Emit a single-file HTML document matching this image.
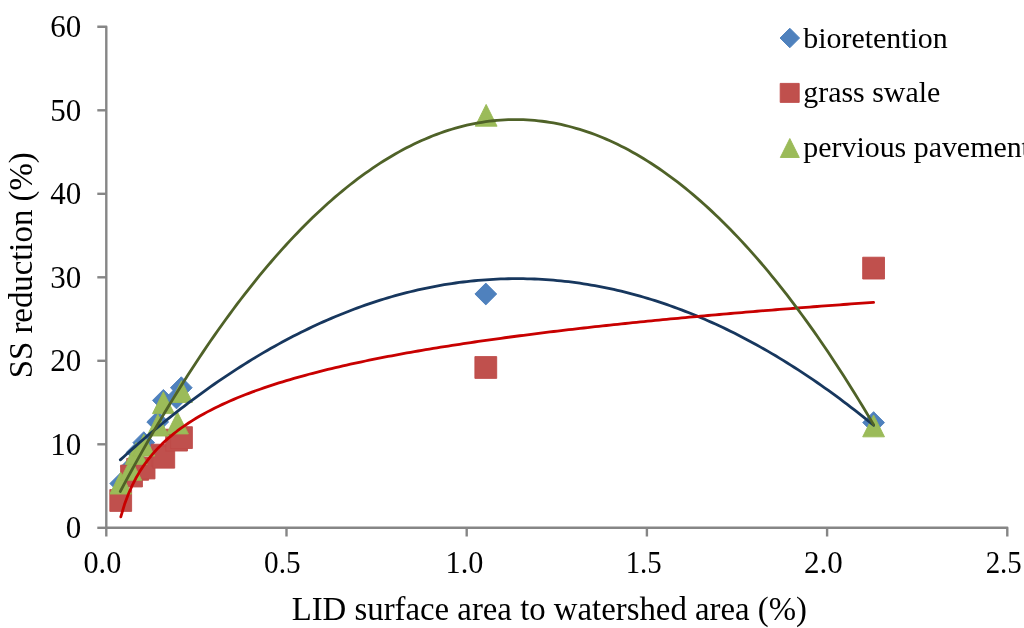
<!DOCTYPE html><html><head><meta charset="utf-8"><style>html,body{margin:0;padding:0;background:#fff;overflow:hidden}svg{display:block;will-change:transform}text{font-family:"Liberation Serif",serif;fill:#000}</style></head><body>
<svg width="1024" height="628" viewBox="0 0 1024 628">
<rect width="1024" height="628" fill="#fff"/>
<g stroke="#868686" stroke-width="2.4" fill="none" stroke-linecap="butt">
<path d="M97.3 26.80H106.3 V527.8 H1007.30 V536.50" stroke-linejoin="round"/>
<path d="M97.3 527.80H106.3"/>
<path d="M97.3 444.30H106.3"/>
<path d="M97.3 360.80H106.3"/>
<path d="M97.3 277.30H106.3"/>
<path d="M97.3 193.80H106.3"/>
<path d="M97.3 110.30H106.3"/>
<path d="M106.30 527.8V536.50"/>
<path d="M286.50 527.8V536.50"/>
<path d="M466.70 527.8V536.50"/>
<path d="M646.90 527.8V536.50"/>
<path d="M827.10 527.8V536.50"/>
</g>
<g font-size="31" text-anchor="end">
<text x="81.2" y="538.00">0</text>
<text x="81.2" y="454.50">10</text>
<text x="81.2" y="371.00">20</text>
<text x="81.2" y="287.50">30</text>
<text x="81.2" y="204.00">40</text>
<text x="81.2" y="120.50">50</text>
<text x="81.2" y="37.00">60</text>
</g>
<g font-size="31" text-anchor="middle">
<text x="102.40" y="572.9" textLength="37.8" lengthAdjust="spacingAndGlyphs">0.0</text>
<text x="282.30" y="572.9" textLength="36.5" lengthAdjust="spacingAndGlyphs">0.5</text>
<text x="464.50" y="572.9" textLength="37.8" lengthAdjust="spacingAndGlyphs">1.0</text>
<text x="643.70" y="572.9" textLength="36.0" lengthAdjust="spacingAndGlyphs">1.5</text>
<text x="823.40" y="572.9" textLength="38.75" lengthAdjust="spacingAndGlyphs">2.0</text>
<text x="1003.70" y="572.9" textLength="36.1" lengthAdjust="spacingAndGlyphs">2.5</text>
</g>
<text x="549.3" y="619.8" font-size="32.8" text-anchor="middle">LID surface area to watershed area (%)</text>
<text transform="translate(31.5,265.3) rotate(-90)" font-size="32.8" text-anchor="middle">SS reduction (%)</text>
<path d="M120.72 472.64L131.62 483.54L120.72 494.44L109.82 483.54Z" fill="#4F81BD" stroke="#4A7EBB" stroke-width="0.9" stroke-linejoin="round"/>
<path d="M131.53 455.94L142.43 466.84L131.53 477.74L120.63 466.84Z" fill="#4F81BD" stroke="#4A7EBB" stroke-width="0.9" stroke-linejoin="round"/>
<path d="M137.19 441.42L148.09 452.32L137.19 463.22L126.29 452.32Z" fill="#4F81BD" stroke="#4A7EBB" stroke-width="0.9" stroke-linejoin="round"/>
<path d="M143.78 431.73L154.68 442.63L143.78 453.53L132.88 442.63Z" fill="#4F81BD" stroke="#4A7EBB" stroke-width="0.9" stroke-linejoin="round"/>
<path d="M157.69 411.11L168.59 422.01L157.69 432.91L146.79 422.01Z" fill="#4F81BD" stroke="#4A7EBB" stroke-width="0.9" stroke-linejoin="round"/>
<path d="M163.39 389.48L174.29 400.38L163.39 411.28L152.49 400.38Z" fill="#4F81BD" stroke="#4A7EBB" stroke-width="0.9" stroke-linejoin="round"/>
<path d="M176.51 387.06L187.41 397.96L176.51 408.86L165.61 397.96Z" fill="#4F81BD" stroke="#4A7EBB" stroke-width="0.9" stroke-linejoin="round"/>
<path d="M181.30 376.79L192.20 387.69L181.30 398.59L170.40 387.69Z" fill="#4F81BD" stroke="#4A7EBB" stroke-width="0.9" stroke-linejoin="round"/>
<path d="M485.80 283.10L496.70 294.00L485.80 304.90L474.90 294.00Z" fill="#4F81BD" stroke="#4A7EBB" stroke-width="0.9" stroke-linejoin="round"/>
<path d="M873.59 411.69L884.49 422.59L873.59 433.49L862.69 422.59Z" fill="#4F81BD" stroke="#4A7EBB" stroke-width="0.9" stroke-linejoin="round"/>
<rect x="109.82" y="489.60" width="21.80" height="21.80" fill="#C0504D" stroke="#BE4B48" stroke-width="0.9" stroke-linejoin="round"/>
<rect x="120.63" y="465.13" width="21.80" height="21.80" fill="#C0504D" stroke="#BE4B48" stroke-width="0.9" stroke-linejoin="round"/>
<rect x="126.75" y="458.45" width="21.80" height="21.80" fill="#C0504D" stroke="#BE4B48" stroke-width="0.9" stroke-linejoin="round"/>
<rect x="133.17" y="457.11" width="21.80" height="21.80" fill="#C0504D" stroke="#BE4B48" stroke-width="0.9" stroke-linejoin="round"/>
<rect x="151.08" y="444.25" width="21.80" height="21.80" fill="#C0504D" stroke="#BE4B48" stroke-width="0.9" stroke-linejoin="round"/>
<rect x="152.88" y="446.34" width="21.80" height="21.80" fill="#C0504D" stroke="#BE4B48" stroke-width="0.9" stroke-linejoin="round"/>
<rect x="165.68" y="429.22" width="21.80" height="21.80" fill="#C0504D" stroke="#BE4B48" stroke-width="0.9" stroke-linejoin="round"/>
<rect x="170.58" y="426.72" width="21.80" height="21.80" fill="#C0504D" stroke="#BE4B48" stroke-width="0.9" stroke-linejoin="round"/>
<rect x="474.90" y="356.58" width="21.80" height="21.80" fill="#C0504D" stroke="#BE4B48" stroke-width="0.9" stroke-linejoin="round"/>
<rect x="862.69" y="257.21" width="21.80" height="21.80" fill="#C0504D" stroke="#BE4B48" stroke-width="0.9" stroke-linejoin="round"/>
<path d="M120.72 472.23L131.62 494.03L109.82 494.03Z" fill="#9BBB59" stroke="#98B954" stroke-width="0.9" stroke-linejoin="round"/>
<path d="M130.81 458.45L141.71 480.25L119.91 480.25Z" fill="#9BBB59" stroke="#98B954" stroke-width="0.9" stroke-linejoin="round"/>
<path d="M136.21 442.58L147.11 464.38L125.31 464.38Z" fill="#9BBB59" stroke="#98B954" stroke-width="0.9" stroke-linejoin="round"/>
<path d="M143.78 434.23L154.68 456.03L132.88 456.03Z" fill="#9BBB59" stroke="#98B954" stroke-width="0.9" stroke-linejoin="round"/>
<path d="M157.84 414.19L168.74 435.99L146.94 435.99Z" fill="#9BBB59" stroke="#98B954" stroke-width="0.9" stroke-linejoin="round"/>
<path d="M163.39 391.82L174.29 413.62L152.49 413.62Z" fill="#9BBB59" stroke="#98B954" stroke-width="0.9" stroke-linejoin="round"/>
<path d="M177.48 412.11L188.38 433.91L166.58 433.91Z" fill="#9BBB59" stroke="#98B954" stroke-width="0.9" stroke-linejoin="round"/>
<path d="M181.52 380.63L192.42 402.43L170.62 402.43Z" fill="#9BBB59" stroke="#98B954" stroke-width="0.9" stroke-linejoin="round"/>
<path d="M486.16 104.41L497.06 126.21L475.26 126.21Z" fill="#9BBB59" stroke="#98B954" stroke-width="0.9" stroke-linejoin="round"/>
<path d="M873.59 415.03L884.49 436.83L862.69 436.83Z" fill="#9BBB59" stroke="#98B954" stroke-width="0.9" stroke-linejoin="round"/>
<path d="M120.32,459.85 L124.09,456.43 L127.85,453.03 L131.62,449.67 L135.39,446.35 L139.15,443.05 L142.92,439.79 L146.68,436.56 L150.45,433.36 L154.22,430.20 L157.98,427.07 L161.75,423.97 L165.52,420.90 L169.28,417.87 L173.05,414.87 L176.81,411.90 L180.58,408.97 L184.35,406.06 L188.11,403.20 L191.88,400.36 L195.65,397.55 L199.41,394.78 L203.18,392.04 L206.95,389.34 L210.71,386.66 L214.48,384.02 L218.24,381.41 L222.01,378.84 L225.78,376.30 L229.54,373.79 L233.31,371.31 L237.08,368.86 L240.84,366.45 L244.61,364.07 L248.38,361.72 L252.14,359.41 L255.91,357.13 L259.67,354.88 L263.44,352.66 L267.21,350.48 L270.97,348.33 L274.74,346.21 L278.51,344.13 L282.27,342.07 L286.04,340.05 L289.81,338.07 L293.57,336.11 L297.34,334.19 L301.10,332.30 L304.87,330.45 L308.64,328.62 L312.40,326.83 L316.17,325.07 L319.94,323.35 L323.70,321.65 L327.47,319.99 L331.24,318.37 L335.00,316.77 L338.77,315.21 L342.53,313.68 L346.30,312.18 L350.07,310.72 L353.83,309.29 L357.60,307.89 L361.37,306.52 L365.13,305.19 L368.90,303.89 L372.67,302.62 L376.43,301.39 L380.20,300.18 L383.96,299.01 L387.73,297.88 L391.50,296.77 L395.26,295.70 L399.03,294.66 L402.80,293.65 L406.56,292.68 L410.33,291.74 L414.10,290.83 L417.86,289.95 L421.63,289.11 L425.39,288.30 L429.16,287.52 L432.93,286.78 L436.69,286.07 L440.46,285.39 L444.23,284.74 L447.99,284.12 L451.76,283.54 L455.53,282.99 L459.29,282.48 L463.06,281.99 L466.82,281.54 L470.59,281.13 L474.36,280.74 L478.12,280.39 L481.89,280.07 L485.66,279.78 L489.42,279.53 L493.19,279.30 L496.96,279.11 L500.72,278.96 L504.49,278.83 L508.25,278.74 L512.02,278.68 L515.79,278.66 L519.55,278.67 L523.32,278.70 L527.09,278.78 L530.85,278.88 L534.62,279.02 L538.39,279.19 L542.15,279.39 L545.92,279.63 L549.68,279.90 L553.45,280.20 L557.22,280.53 L560.98,280.90 L564.75,281.30 L568.52,281.73 L572.28,282.19 L576.05,282.69 L579.82,283.22 L583.58,283.78 L587.35,284.38 L591.11,285.01 L594.88,285.67 L598.65,286.36 L602.41,287.09 L606.18,287.85 L609.95,288.64 L613.71,289.46 L617.48,290.32 L621.25,291.21 L625.01,292.13 L628.78,293.08 L632.54,294.07 L636.31,295.09 L640.08,296.14 L643.84,297.23 L647.61,298.35 L651.38,299.50 L655.14,300.68 L658.91,301.90 L662.68,303.15 L666.44,304.43 L670.21,305.74 L673.97,307.09 L677.74,308.47 L681.51,309.88 L685.27,311.33 L689.04,312.81 L692.81,314.32 L696.57,315.86 L700.34,317.44 L704.11,319.05 L707.87,320.69 L711.64,322.36 L715.40,324.07 L719.17,325.81 L722.94,327.58 L726.70,329.38 L730.47,331.22 L734.24,333.09 L738.00,334.99 L741.77,336.93 L745.54,338.90 L749.30,340.90 L753.07,342.93 L756.83,345.00 L760.60,347.10 L764.37,349.23 L768.13,351.39 L771.90,353.59 L775.67,355.82 L779.43,358.08 L783.20,360.38 L786.97,362.71 L790.73,365.07 L794.50,367.46 L798.26,369.89 L802.03,372.34 L805.80,374.83 L809.56,377.36 L813.33,379.92 L817.10,382.50 L820.86,385.13 L824.63,387.78 L828.40,390.47 L832.16,393.19 L835.93,395.94 L839.69,398.73 L843.46,401.54 L847.23,404.40 L850.99,407.28 L854.76,410.20 L858.53,413.14 L862.29,416.13 L866.06,419.14 L869.83,422.19 L873.59,425.27" fill="none" stroke="#17375E" stroke-width="2.8" stroke-linecap="round" stroke-linejoin="round"/>
<path d="M120.79,516.81 L124.55,504.33 L128.32,494.20 L132.08,485.68 L135.84,478.31 L139.61,471.84 L143.37,466.05 L147.14,460.83 L150.90,456.06 L154.66,451.69 L158.43,447.64 L162.19,443.87 L165.96,440.35 L169.72,437.05 L173.48,433.93 L177.25,430.99 L181.01,428.19 L184.78,425.54 L188.54,423.01 L192.30,420.59 L196.07,418.27 L199.83,416.06 L203.60,413.92 L207.36,411.87 L211.12,409.90 L214.89,407.99 L218.65,406.15 L222.42,404.37 L226.18,402.65 L229.94,400.98 L233.71,399.36 L237.47,397.78 L241.24,396.26 L245.00,394.77 L248.76,393.32 L252.53,391.91 L256.29,390.54 L260.06,389.20 L263.82,387.90 L267.58,386.62 L271.35,385.37 L275.11,384.15 L278.88,382.96 L282.64,381.80 L286.40,380.66 L290.17,379.54 L293.93,378.44 L297.70,377.37 L301.46,376.32 L305.22,375.29 L308.99,374.27 L312.75,373.28 L316.52,372.30 L320.28,371.35 L324.05,370.40 L327.81,369.48 L331.57,368.57 L335.34,367.67 L339.10,366.79 L342.87,365.93 L346.63,365.07 L350.39,364.23 L354.16,363.41 L357.92,362.59 L361.69,361.79 L365.45,361.00 L369.21,360.22 L372.98,359.45 L376.74,358.70 L380.51,357.95 L384.27,357.21 L388.03,356.49 L391.80,355.77 L395.56,355.06 L399.33,354.36 L403.09,353.67 L406.85,352.99 L410.62,352.32 L414.38,351.66 L418.15,351.00 L421.91,350.35 L425.67,349.71 L429.44,349.08 L433.20,348.45 L436.97,347.83 L440.73,347.22 L444.49,346.62 L448.26,346.02 L452.02,345.43 L455.79,344.84 L459.55,344.26 L463.31,343.69 L467.08,343.12 L470.84,342.56 L474.61,342.01 L478.37,341.46 L482.13,340.92 L485.90,340.38 L489.66,339.84 L493.43,339.32 L497.19,338.79 L500.95,338.28 L504.72,337.76 L508.48,337.26 L512.25,336.75 L516.01,336.25 L519.77,335.76 L523.54,335.27 L527.30,334.78 L531.07,334.30 L534.83,333.83 L538.59,333.35 L542.36,332.89 L546.12,332.42 L549.89,331.96 L553.65,331.51 L557.41,331.05 L561.18,330.60 L564.94,330.16 L568.71,329.72 L572.47,329.28 L576.23,328.84 L580.00,328.41 L583.76,327.99 L587.53,327.56 L591.29,327.14 L595.05,326.72 L598.82,326.31 L602.58,325.90 L606.35,325.49 L610.11,325.08 L613.87,324.68 L617.64,324.28 L621.40,323.89 L625.17,323.49 L628.93,323.10 L632.69,322.72 L636.46,322.33 L640.22,321.95 L643.99,321.57 L647.75,321.19 L651.51,320.82 L655.28,320.45 L659.04,320.08 L662.81,319.71 L666.57,319.35 L670.33,318.98 L674.10,318.62 L677.86,318.27 L681.63,317.91 L685.39,317.56 L689.15,317.21 L692.92,316.86 L696.68,316.52 L700.45,316.17 L704.21,315.83 L707.97,315.49 L711.74,315.16 L715.50,314.82 L719.27,314.49 L723.03,314.16 L726.79,313.83 L730.56,313.50 L734.32,313.18 L738.09,312.86 L741.85,312.53 L745.62,312.22 L749.38,311.90 L753.14,311.58 L756.91,311.27 L760.67,310.96 L764.44,310.65 L768.20,310.34 L771.96,310.03 L775.73,309.73 L779.49,309.43 L783.26,309.12 L787.02,308.83 L790.78,308.53 L794.55,308.23 L798.31,307.94 L802.08,307.64 L805.84,307.35 L809.60,307.06 L813.37,306.77 L817.13,306.49 L820.90,306.20 L824.66,305.92 L828.42,305.64 L832.19,305.35 L835.95,305.08 L839.72,304.80 L843.48,304.52 L847.24,304.25 L851.01,303.97 L854.77,303.70 L858.54,303.43 L862.30,303.16 L866.06,302.89 L869.83,302.62 L873.59,302.36" fill="none" stroke="#C80000" stroke-width="2.8" stroke-linecap="round" stroke-linejoin="round"/>
<path d="M120.28,491.48 L124.05,484.42 L127.82,477.43 L131.58,470.51 L135.35,463.66 L139.12,456.88 L142.88,450.16 L146.65,443.51 L150.42,436.93 L154.18,430.42 L157.95,423.97 L161.72,417.59 L165.48,411.28 L169.25,405.04 L173.02,398.86 L176.78,392.75 L180.55,386.71 L184.31,380.74 L188.08,374.83 L191.85,368.99 L195.61,363.22 L199.38,357.52 L203.15,351.88 L206.91,346.31 L210.68,340.81 L214.45,335.38 L218.21,330.01 L221.98,324.72 L225.75,319.49 L229.51,314.32 L233.28,309.23 L237.05,304.20 L240.81,299.24 L244.58,294.35 L248.35,289.52 L252.11,284.76 L255.88,280.07 L259.65,275.45 L263.41,270.89 L267.18,266.41 L270.95,261.99 L274.71,257.63 L278.48,253.35 L282.24,249.13 L286.01,244.98 L289.78,240.90 L293.54,236.89 L297.31,232.94 L301.08,229.06 L304.84,225.25 L308.61,221.50 L312.38,217.82 L316.14,214.22 L319.91,210.67 L323.68,207.20 L327.44,203.79 L331.21,200.45 L334.98,197.18 L338.74,193.98 L342.51,190.84 L346.28,187.77 L350.04,184.77 L353.81,181.84 L357.58,178.97 L361.34,176.17 L365.11,173.44 L368.88,170.77 L372.64,168.18 L376.41,165.65 L380.17,163.19 L383.94,160.79 L387.71,158.47 L391.47,156.21 L395.24,154.02 L399.01,151.89 L402.77,149.84 L406.54,147.85 L410.31,145.93 L414.07,144.08 L417.84,142.29 L421.61,140.57 L425.37,138.92 L429.14,137.34 L432.91,135.82 L436.67,134.37 L440.44,132.99 L444.21,131.68 L447.97,130.44 L451.74,129.26 L455.51,128.15 L459.27,127.10 L463.04,126.13 L466.81,125.22 L470.57,124.38 L474.34,123.61 L478.10,122.90 L481.87,122.27 L485.64,121.70 L489.40,121.19 L493.17,120.76 L496.94,120.39 L500.70,120.09 L504.47,119.86 L508.24,119.70 L512.00,119.60 L515.77,119.57 L519.54,119.61 L523.30,119.71 L527.07,119.89 L530.84,120.13 L534.60,120.43 L538.37,120.81 L542.14,121.25 L545.90,121.76 L549.67,122.34 L553.44,122.99 L557.20,123.70 L560.97,124.48 L564.74,125.33 L568.50,126.25 L572.27,127.23 L576.03,128.28 L579.80,129.40 L583.57,130.59 L587.33,131.84 L591.10,133.16 L594.87,134.55 L598.63,136.01 L602.40,137.53 L606.17,139.12 L609.93,140.78 L613.70,142.51 L617.47,144.30 L621.23,146.16 L625.00,148.09 L628.77,150.09 L632.53,152.15 L636.30,154.29 L640.07,156.49 L643.83,158.75 L647.60,161.09 L651.37,163.49 L655.13,165.96 L658.90,168.50 L662.67,171.10 L666.43,173.77 L670.20,176.51 L673.96,179.32 L677.73,182.19 L681.50,185.14 L685.26,188.15 L689.03,191.22 L692.80,194.37 L696.56,197.58 L700.33,200.86 L704.10,204.21 L707.86,207.63 L711.63,211.11 L715.40,214.66 L719.16,218.28 L722.93,221.96 L726.70,225.71 L730.46,229.54 L734.23,233.42 L738.00,237.38 L741.76,241.40 L745.53,245.49 L749.30,249.65 L753.06,253.88 L756.83,258.17 L760.60,262.53 L764.36,266.96 L768.13,271.46 L771.90,276.02 L775.66,280.65 L779.43,285.35 L783.19,290.11 L786.96,294.95 L790.73,299.85 L794.49,304.82 L798.26,309.85 L802.03,314.96 L805.79,320.13 L809.56,325.37 L813.33,330.68 L817.09,336.05 L820.86,341.49 L824.63,347.00 L828.39,352.58 L832.16,358.22 L835.93,363.93 L839.69,369.71 L843.46,375.56 L847.23,381.47 L850.99,387.46 L854.76,393.51 L858.53,399.62 L862.29,405.81 L866.06,412.06 L869.83,418.38 L873.59,424.77" fill="none" stroke="#4F6228" stroke-width="2.8" stroke-linecap="round" stroke-linejoin="round"/>
<path d="M789.80 28.20L799.60 38.00L789.80 47.80L780.00 38.00Z" fill="#4F81BD" stroke="#4A7EBB" stroke-width="0.9" stroke-linejoin="round"/>
<rect x="780.20" y="83.40" width="19.00" height="19.00" fill="#C0504D" stroke="#BE4B48" stroke-width="0.9" stroke-linejoin="round"/>
<path d="M789.80 138.50L799.30 157.50L780.30 157.50Z" fill="#9BBB59" stroke="#98B954" stroke-width="0.9" stroke-linejoin="round"/>
<g font-size="29.9">
<text x="803.3" y="47.7">bioretention</text>
<text x="803.3" y="102.1">grass swale</text>
<text x="803.3" y="156.9">pervious pavement</text>
</g>
</svg></body></html>
